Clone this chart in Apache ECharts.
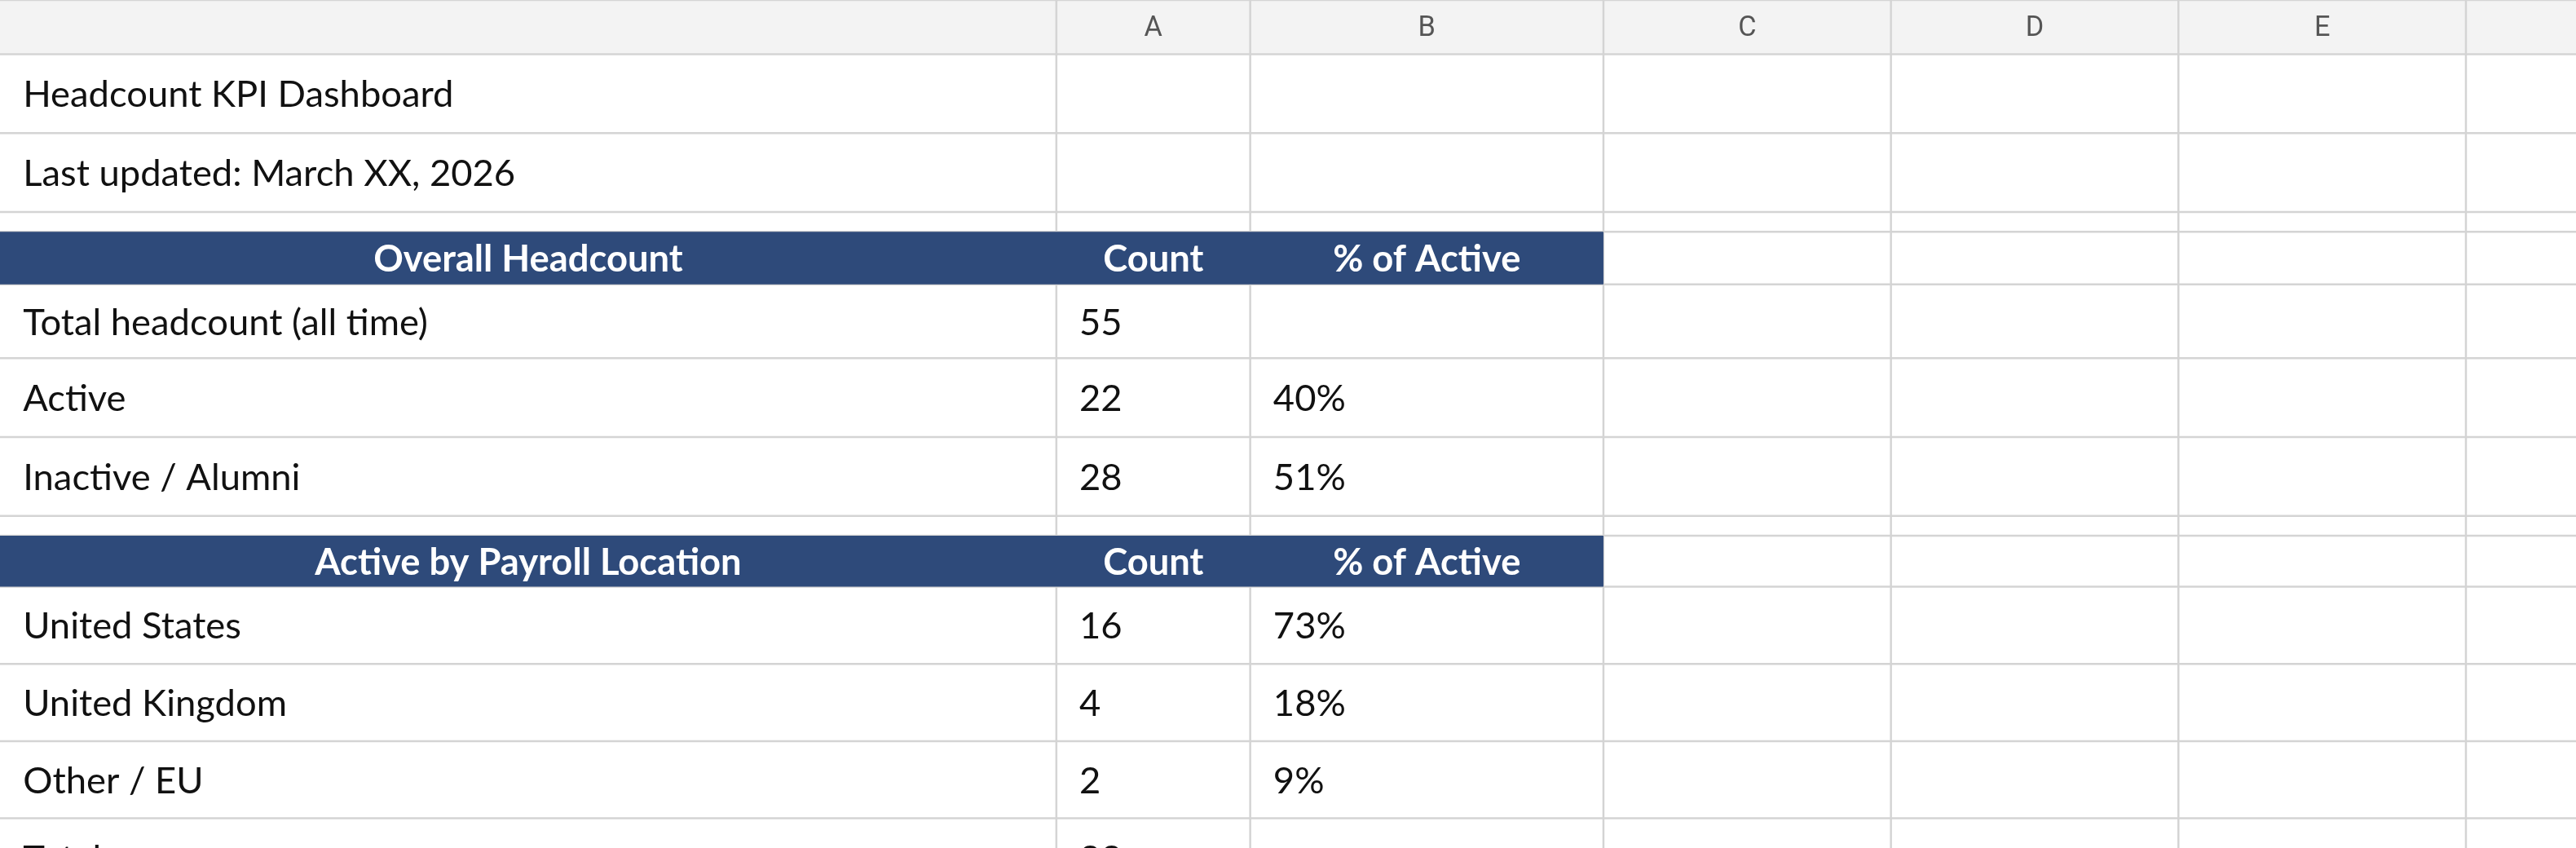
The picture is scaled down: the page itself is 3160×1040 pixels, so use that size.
<!DOCTYPE html>
<html><head><meta charset="utf-8">
<script src="https://cdn.jsdelivr.net/npm/echarts@6/dist/echarts.min.js"></script>
<style>html,body{margin:0;padding:0;background:#fff}#c{width:3160px;height:1040px}</style>
</head><body><div id="c"></div>
<script>
const columnLetters = ["", "A", "B", "C", "D", "E", ""];
const titleText = "Headcount KPI Dashboard";
const updatedText = "Last updated: March XX, 2026";
const overallHeader = ["Overall Headcount", "Count", "% of Active"];
const overallLabels = ["Total headcount (all time)", "Active", "Inactive / Alumni"];
const overallCounts = ["55", "22", "28"];
const overallPcts = ["", "40%", "51%"];
const locationHeader = ["Active by Payroll Location", "Count", "% of Active"];
const locationLabels = ["United States", "United Kingdom", "Other / EU", "Total"];
const locationCounts = ["16", "4", "2", "22"];
const locationPcts = ["73%", "18%", "9%", ""];

const S = 3160 / 1568;
const colEdges = [0, 643, 761, 976, 1151, 1326, 1501, 1676].map(v => v * S);
const rowEdges = [0, 33, 81, 129, 141, 173, 218, 266, 314, 326, 357, 404, 451, 498, 546].map(v => v * S);
const FONT = "Lato, 'Noto Sans', sans-serif";
const FS = 22.5 * S;
const G = [];
const W = 3160, H = 1040;
// header bg
G.push({type:'rect', shape:{x:0,y:0,width:W,height:rowEdges[1]}, style:{fill:'#f3f3f3'}, z:0});
// grid lines
rowEdges.forEach(y => G.push({type:'line', shape:{x1:0,y1:y,x2:W,y2:y}, style:{stroke:'#d4d4d4', lineWidth:2.5}, z:1}));
colEdges.slice(1).forEach(x => G.push({type:'line', shape:{x1:x,y1:0,x2:x,y2:H}, style:{stroke:'#d4d4d4', lineWidth:2.5}, z:1}));
columnLetters.forEach((t, i) => {
  if (!t) return;
  G.push({type:'text', x:(colEdges[i]+colEdges[i+1])/2, y:rowEdges[1]/2+2,
    style:{text:t, fill:'#555', font:`${17*S}px Roboto, sans-serif`, align:'center', verticalAlign:'middle'}, z:3});
});
function cellText(t, col, row, opts) {
  if (!t) return;
  const y = (rowEdges[row] + rowEdges[row+1]) / 2;
  G.push({type:'text', x: colEdges[col] + 14*S, y: y + 2,
    style:Object.assign({text:t, fill:'#111', font:`${FS}px ${FONT}`, align:'left', verticalAlign:'middle'}, opts||{}), z:3});
}
function headerBand(arr, row) {
  G.push({type:'rect', shape:{x:0, y:rowEdges[row], width:colEdges[3], height:rowEdges[row+1]-rowEdges[row]}, style:{fill:'#2e4a7a'}, z:2});
  arr.forEach((t, i) => {
    G.push({type:'text', x:(colEdges[i]+colEdges[i+1])/2, y:(rowEdges[row]+rowEdges[row+1])/2 + 2,
      style:{text:t, fill:'#fff', font:`bold ${FS}px ${FONT}`, align:'center', verticalAlign:'middle'}, z:3});
  });
}
cellText(titleText, 0, 1);
cellText(updatedText, 0, 2);
headerBand(overallHeader, 4);
overallLabels.forEach((t, i) => { cellText(t, 0, 5+i); cellText(overallCounts[i], 1, 5+i); cellText(overallPcts[i], 2, 5+i); });
headerBand(locationHeader, 9);
locationLabels.forEach((t, i) => { cellText(t, 0, 10+i); cellText(locationCounts[i], 1, 10+i); cellText(locationPcts[i], 2, 10+i); });

const chart = echarts.init(document.getElementById('c'));
chart.setOption({animation:false, backgroundColor:'#fff', graphic:{elements:G}});
</script></body></html>
